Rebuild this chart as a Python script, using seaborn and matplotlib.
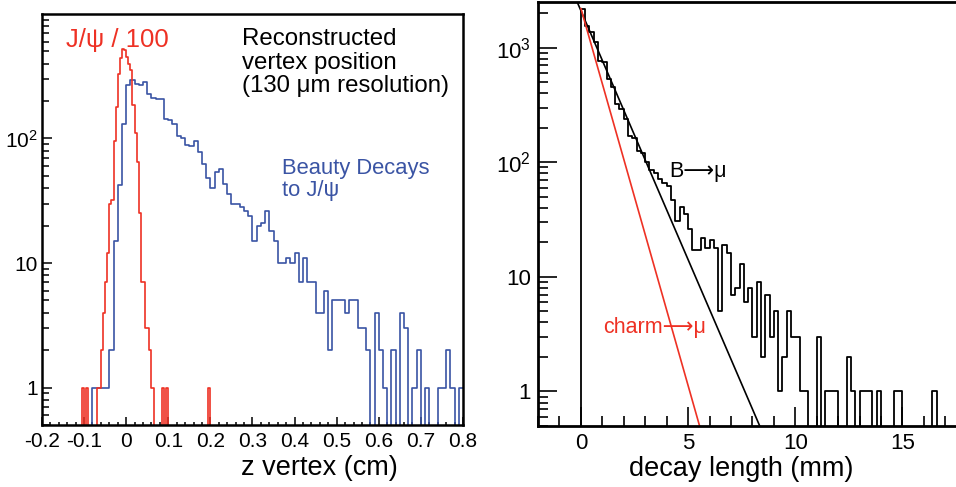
import numpy as np
import pandas as pd
import matplotlib
matplotlib.use('Agg')
import matplotlib.pyplot as plt
from matplotlib.ticker import FixedLocator, FixedFormatter, MultipleLocator, LogLocator, NullFormatter
import seaborn as sns

# ---- left panel: z vertex (cm), counts per bin ----
beauty_edges = (-0.09, 0.80, 0.01)      # lo, hi, bin width
beauty_counts = [0, 1, 1, 1, 1, 2, 15, 42, 131,
                 267, 294, 276, 270, 285, 229, 213, 209, 209, 144,
                 140, 130, 104, 100, 89, 87, 96, 78, 62, 48,
                 40, 54, 57, 43, 36, 30, 30, 28, 26, 24,
                 15, 20, 21, 26, 18, 15, 10, 10, 11, 10,
                 12, 7, 11, 7, 7, 4, 4, 6, 2, 5,
                 5, 5, 4, 5, 5, 3, 3, 2, 0, 4,
                 2, 1, 0, 2, 0, 4, 3, 0, 1, 2,
                 0, 1, 0, 0, 1, 1, 2, 1, 0, 1]

jpsi_edges = (-0.11, 0.21, 0.005)
jpsi_counts = [0, 1, 0, 1, 0, 0, 0, 0, 1, 1,
               2, 4, 7, 12, 30, 32, 95, 180, 330, 440,
               520, 515, 450, 400, 355, 185, 110, 65, 25, 7,
               7, 3, 3, 2, 1, 0, 0, 0, 0, 1,
               0, 1, 0, 0, 0, 0, 0, 0, 0, 0,
               0, 0, 0, 0, 0, 0, 0, 0, 0, 0,
               0, 1, 0, 0]

zv_ticks = [-0.2, -0.1, 0, 0.1, 0.2, 0.3, 0.4, 0.5, 0.6, 0.7, 0.8]
zv_labels = ['-0.2', '-0.1', '0', '0.1', '0.2', '0.3', '0.4', '0.5', '0.6', '0.7', '0.8']

# ---- right panel: decay length (mm) ----
dl_edges = (-0.2, 17.0, 0.2)
bmu_counts = [0,
              2190, 1550, 1365, 1115, 770, 745, 531, 449, 321, 290,
              237, 169, 164, 125, 121, 100, 86, 81, 72, 66,
              62, 47, 31, 41, 35, 26, 17, 17, 22, 18,
              21, 18, 5, 19, 16, 7, 8, 13, 6, 8,
              3, 9, 2, 7, 3, 5, 1, 2, 5, 3,
              3, 1, 1, 0, 0, 3, 0, 1, 1, 1,
              0, 0, 2, 1, 0, 1, 1, 1, 0, 1,
              0, 0, 0, 1, 1, 0, 0, 0, 0, 0,
              0, 0, 1, 0, 0]

# exponential fits: amplitude at 0, decay length (mm), x range
b_fit = (2100, 1.0, -0.5, 9.0)
charm_fit = (2200, 0.66, 0.0, 6.5)

RED = '#ee3124'
BLUE = '#3a54a4'


def step_hist(ax, spec, counts, color, lw):
    lo, hi, step = spec
    n = int(round((hi - lo) / step))
    centers = lo + step * (np.arange(n) + 0.5)
    df = pd.DataFrame({'x': centers, 'n': np.asarray(counts, dtype=float)})
    sns.histplot(data=df, x='x', weights='n', bins=n, binrange=(lo, hi),
                 element='step', fill=False, color=color, linewidth=lw, ax=ax)


sns.set_style('ticks', {'axes.edgecolor': 'black', 'xtick.color': 'black',
                        'ytick.color': 'black', 'text.color': 'black',
                        'axes.labelcolor': 'black'})
plt.rcParams['font.family'] = ['Liberation Sans', 'DejaVu Sans']
plt.rcParams['mathtext.fontset'] = 'custom'
plt.rcParams['mathtext.rm'] = 'Liberation Sans'
plt.rcParams['axes.unicode_minus'] = False

fig = plt.figure(figsize=(9.56, 4.87), dpi=100)
ax1 = fig.add_axes([0.0439, 0.1273, 0.4404, 0.8440])
ax2 = fig.add_axes([0.5628, 0.1253, 0.4372, 0.8706])

# left
step_hist(ax1, beauty_edges, beauty_counts, BLUE, 1.2)
step_hist(ax1, jpsi_edges, jpsi_counts, RED, 1.2)
ax1.set_yscale('log', nonpositive='clip')
ax1.set_xlim(-0.2, 0.8)
ax1.set_ylim(0.5, 1000)
ax1.xaxis.set_major_locator(FixedLocator(zv_ticks))
ax1.xaxis.set_major_formatter(FixedFormatter(zv_labels))
ax1.xaxis.set_minor_locator(MultipleLocator(0.02))
ax1.yaxis.set_major_locator(FixedLocator([1, 10, 100]))
ax1.yaxis.set_major_formatter(FixedFormatter(['1', '10', r'$\mathregular{10^2}$']))
ax1.yaxis.set_minor_locator(LogLocator(base=10, subs=np.arange(2, 10) * 1.0, numticks=50))
ax1.yaxis.set_minor_formatter(NullFormatter())
ax1.tick_params(which='both', direction='in', width=1.1)
ax1.tick_params(axis='x', which='major', length=5.8, labelsize=15, pad=5)
ax1.tick_params(axis='x', which='minor', length=2.5)
ax1.tick_params(axis='y', which='major', length=7, labelsize=15, pad=3)
ax1.tick_params(axis='y', which='minor', length=4.8)
for s in ax1.spines.values():
    s.set_linewidth(1.8)
ax1.set_ylabel('')
ax1.set_xlabel('z vertex (cm)', fontsize=19.5)
ax1.xaxis.set_label_coords(0.66, -0.073)

ax1.text(-0.143, 617, 'J/ψ / 100', color=RED, fontsize=18.5, ha='left', va='center')
ax1.text(0.276, 771, 'Reconstructed\nvertex position\n(130 μm resolution)',
         fontsize=17.3, ha='left', va='top', linespacing=1.1)
ax1.text(0.369, 70, 'Beauty Decays\nto J/ψ', color=BLUE, fontsize=15.8,
         ha='left', va='top', linespacing=1.1)

# right
step_hist(ax2, dl_edges, bmu_counts, 'black', 1.3)
for (amp, lam, x0, x1), col in [(b_fit, 'black'), (charm_fit, RED)]:
    xf = np.linspace(x0, x1, 60)
    sns.lineplot(x=xf, y=amp * np.exp(-xf / lam), color=col, linewidth=1.2, ax=ax2)
ax2.set_yscale('log', nonpositive='clip')
ax2.set_xlim(-2, 17.5)
ax2.set_ylim(0.5, 2500)
ax2.xaxis.set_major_locator(MultipleLocator(5))
ax2.xaxis.set_minor_locator(MultipleLocator(1))
ax2.yaxis.set_major_locator(FixedLocator([1, 10, 100, 1000]))
ax2.yaxis.set_major_formatter(FixedFormatter(['1', '10', r'$\mathregular{10^2}$',
                                              r'$\mathregular{10^3}$']))
ax2.yaxis.set_minor_locator(LogLocator(base=10, subs=np.arange(2, 10) * 1.0, numticks=50))
ax2.yaxis.set_minor_formatter(NullFormatter())
ax2.tick_params(which='both', direction='in', width=1.2, labelsize=16)
ax2.tick_params(which='major', length=13.5, pad=5)
ax2.tick_params(which='minor', length=7)
for s in ax2.spines.values():
    s.set_linewidth(2)
ax2.spines['right'].set_visible(False)
ax2.set_ylabel('')
ax2.set_xlabel('decay length (mm)', fontsize=19.5)
ax2.xaxis.set_label_coords(0.486, -0.07)

ax2.text(4.14, 83, 'B\u27f6μ', fontsize=15.5, ha='left', va='center')
ax2.text(1.02, 3.62, 'charm\u27f6μ', color=RED, fontsize=15.5, ha='left', va='center')

fig.savefig('out.png', dpi=100)
